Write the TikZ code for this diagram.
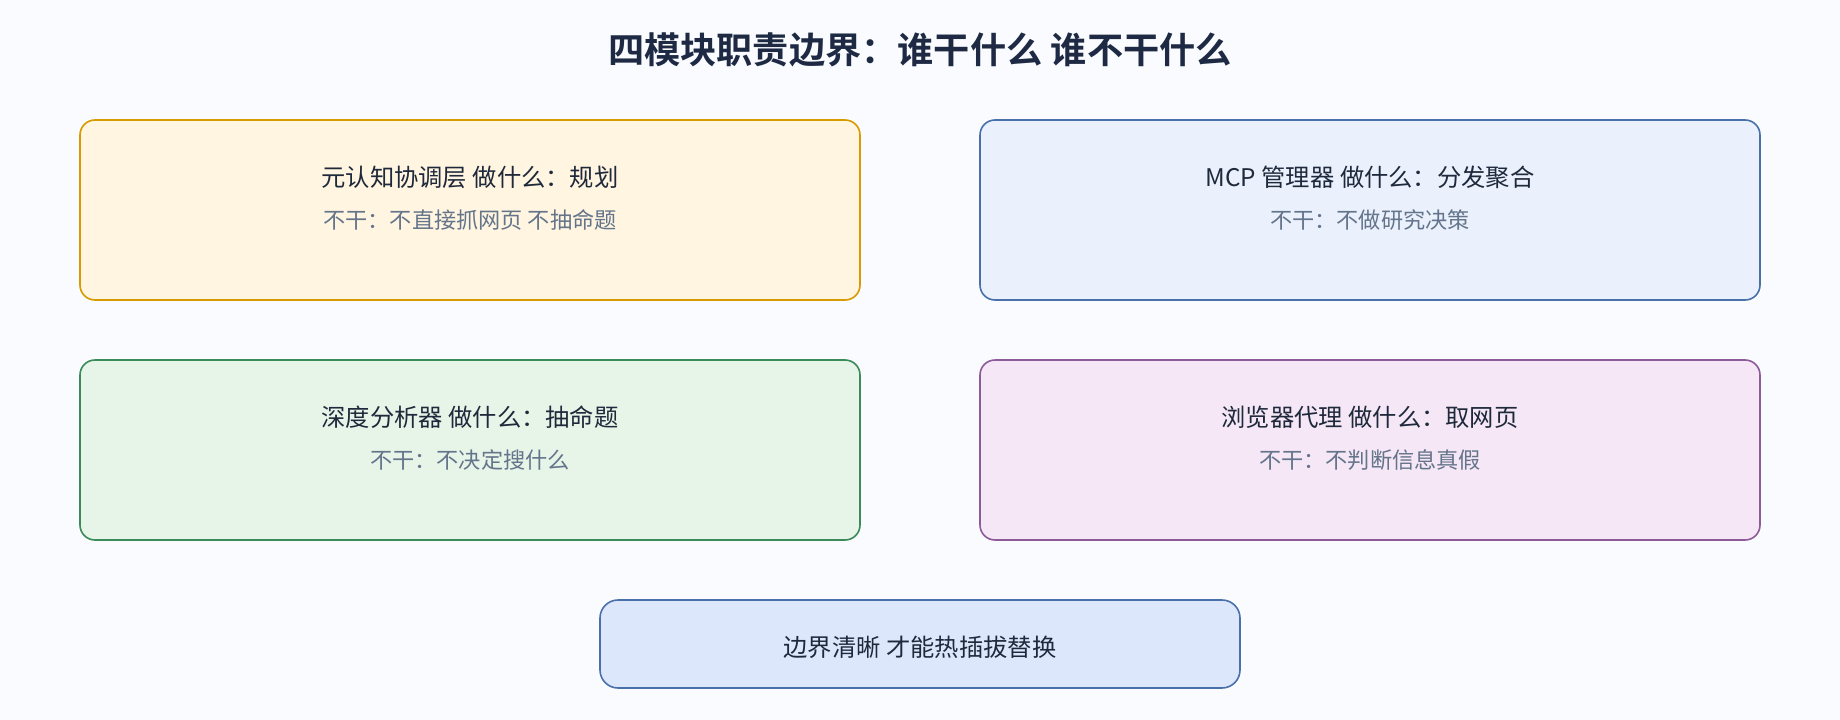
\documentclass[tikz,border=0pt]{standalone}
\usepackage{fontspec}
\setmainfont{Noto Sans CJK SC}[BoldFont={Noto Sans CJK SC Bold}]
\definecolor{bg}{HTML}{FAFBFE}
\definecolor{titlec}{HTML}{1E2A44}
\definecolor{darktxt}{HTML}{1E293B}
\definecolor{graytxt}{HTML}{64748B}
\definecolor{yfill}{HTML}{FFF5E0}
\definecolor{ydraw}{HTML}{D79B00}
\definecolor{bfill}{HTML}{EAF1FC}
\definecolor{bdraw}{HTML}{4A70AA}
\definecolor{gfill}{HTML}{E7F4E8}
\definecolor{gdraw}{HTML}{3A8A5A}
\definecolor{pfill}{HTML}{F5E7F5}
\definecolor{pdraw}{HTML}{8E5B9A}
\definecolor{efill}{HTML}{DCE7FC}
\tikzset{
  modbox/.style={draw, line width=1.6pt, rounded corners=15pt, minimum width=780pt, minimum height=180pt, inner sep=0pt},
  endbox/.style={draw=bdraw, fill=efill, line width=1.6pt, rounded corners=18pt, minimum width=640pt, minimum height=88pt, inner sep=0pt},
  doline/.style={text=darktxt, font=\fontsize{24.3}{29}\selectfont, inner sep=0pt},
  notline/.style={text=graytxt, font=\fontsize{22.2}{27}\selectfont, inner sep=0pt},
}
\begin{document}
\begin{tikzpicture}[x=1pt,y=-1pt]
\fill[bg] (0,0) rectangle (1840,720);
\useasboundingbox (0,0) rectangle (1840,720);
\node[text=titlec, font=\fontsize{36.2}{43}\selectfont\bfseries, inner sep=0pt] (title) at (920,50) {四模块职责边界：谁干什么 谁不干什么};

\node[modbox, draw=ydraw, fill=yfill] (meta) at (470,210) {};
\node[doline] (metado) at (470,177) {元认知协调层 做什么：规划};
\node[notline] (metanot) at (470,220) {不干：不直接抓网页 不抽命题};

\node[modbox, draw=bdraw, fill=bfill] (mcp) at (1370,210) {};
\node[doline] (mcpdo) at (1370,177) {MCP 管理器 做什么：分发聚合};
\node[notline] (mcpnot) at (1370,220) {不干：不做研究决策};

\node[modbox, draw=gdraw, fill=gfill] (deep) at (470,450) {};
\node[doline] (deepdo) at (470,417) {深度分析器 做什么：抽命题};
\node[notline] (deepnot) at (470,460) {不干：不决定搜什么};

\node[modbox, draw=pdraw, fill=pfill] (browser) at (1370,450) {};
\node[doline] (browserdo) at (1370,417) {浏览器代理 做什么：取网页};
\node[notline] (browsernot) at (1370,460) {不干：不判断信息真假};

\node[endbox] (bound) at (920,644) {};
\node[doline] (boundtxt) at (920,647) {边界清晰 才能热插拔替换};
\end{tikzpicture}
\end{document}
